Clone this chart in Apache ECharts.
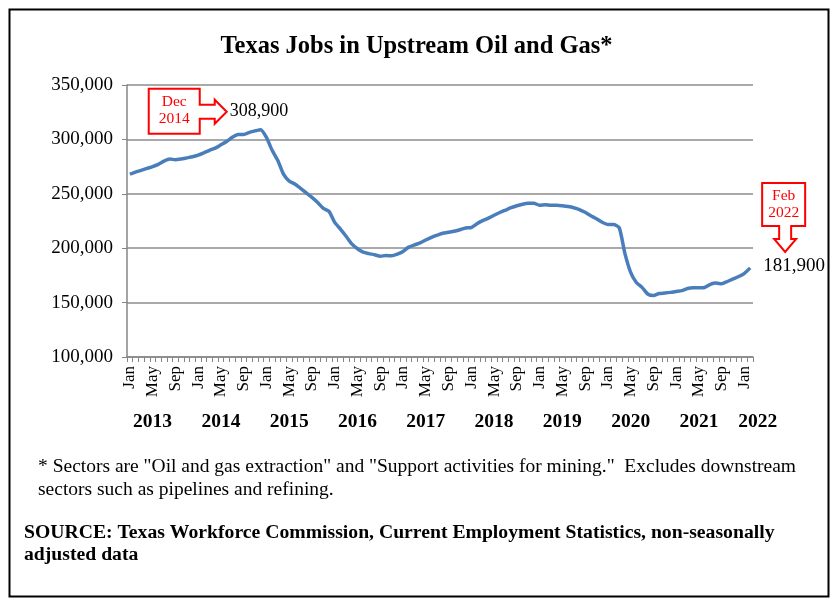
<!DOCTYPE html>
<html>
<head>
<meta charset="utf-8">
<script src="https://cdn.jsdelivr.net/npm/echarts@6/dist/echarts.min.js"></script>
<style>html,body{margin:0;padding:0;background:#fff}#c{width:833px;height:602px}</style>
</head>
<body>
<div id="c"></div>
<script>
const monthNames = ['Jan','Feb','Mar','Apr','May','Jun','Jul','Aug','Sep','Oct','Nov','Dec'];
const years = [2013,2014,2015,2016,2017,2018,2019,2020,2021,2022];
const jobs2013 = [268000,270000,271500,273300,275000,277000,280000,282000,281300,282000,283000,284000];
const jobs2014 = [285500,287600,290000,292000,295000,298000,302000,304600,304600,306400,307800,308900];
const jobs2015 = [301800,290000,280700,268000,261700,259000,255000,250800,246700,242000,236600,233800];
const jobs2016 = [223700,217600,211000,204000,199500,196300,195000,194000,192600,193300,193000,194500];
const jobs2017 = [197000,201000,203000,204800,207500,210000,212000,213800,214700,215600,217000,218600];
const jobs2018 = [219000,222500,225300,227600,230300,232800,235000,237200,239000,240400,241300,241300];
const jobs2019 = [239500,240000,239500,239500,239000,238300,237200,235500,233000,229900,227000,223800];
const jobs2020 = [221700,221700,218800,195000,177800,168500,164000,157900,156500,158300,158800,159400];
const jobs2021 = [160200,161000,163000,163600,163600,163900,166700,167900,167400,169400,171800,174000];
const jobs2022 = [176900,181900];
const yTicks = {min:100000, max:350000, step:50000};

const values = [].concat(jobs2013,jobs2014,jobs2015,jobs2016,jobs2017,jobs2018,jobs2019,jobs2020,jobs2021,jobs2022);
const categories = [];
years.forEach(y => monthNames.forEach(m => { if (categories.length < values.length) categories.push(m + ' ' + y); }));

const serif = 'Liberation Serif';
const fmt = v => v.toLocaleString('en-US');
const lastIdx = values.length - 1;
const chart = echarts.init(document.getElementById('c'));
const option = {
  animation: false,
  backgroundColor: '#fff',
  title: {
    text: 'Texas Jobs in Upstream Oil and Gas*',
    left: 'center', top: 29,
    textStyle: {fontFamily: serif, fontSize: 24.5, fontWeight: 'bold', color: '#000'}
  },
  grid: {left: 127, right: 80, top: 85, bottom: 245},
  xAxis: [{
    type: 'category', data: categories, boundaryGap: true,
    axisLine: {lineStyle: {color: '#868686', width: 1.5}},
    axisTick: {show: true, interval: 0, length: 5, alignWithLabel: false, lineStyle: {color: '#868686'}},
    axisLabel: {interval: 3, rotate: 90, margin: 9, formatter: v => v.split(' ')[0],
      fontFamily: serif, fontSize: 17, color: '#000'}
  }, {
    type: 'category', data: categories, position: 'bottom', offset: 51,
    axisLine: {show: false}, axisTick: {show: false},
    axisLabel: {interval: (i) => i % 12 === 4 || i === lastIdx, margin: 4,
      formatter: (v, i) => i === lastIdx ? '{s|' + v.split(' ')[1] + '}' : v.split(' ')[1],
      rich: {s: {padding: [0, 0, 0, 15], fontFamily: serif, fontSize: 19.5, fontWeight: 'bold', color: '#000'}},
      fontFamily: serif, fontSize: 19.5, fontWeight: 'bold', color: '#000'}
  }],
  yAxis: {
    type: 'value', min: yTicks.min, max: yTicks.max, interval: yTicks.step,
    axisLine: {show: true, lineStyle: {color: '#868686', width: 1.5}},
    axisTick: {show: true, length: 5, lineStyle: {color: '#868686'}},
    splitLine: {lineStyle: {color: '#8c8c8c', width: 1.5}},
    axisLabel: {formatter: fmt, margin: 14, fontFamily: serif, fontSize: 19, color: '#000'}
  },
  series: [{
    type: 'line', data: values, xAxisIndex: 0, showSymbol: false, smooth: 0.2,
    lineStyle: {color: '#4a7ebb', width: 3.5}, itemStyle: {color: '#4a7ebb'}
  }],
  graphic: [
    {type: 'rect', left: 7, top: 7, shape: {width: 819, height: 587},
      style: {fill: 'none', stroke: '#000', lineWidth: 2}},
    {type: 'text', left: 38, top: 457, style: {text: '* Sectors are "Oil and gas extraction" and "Support activities for mining."  Excludes downstream', font: '19.5px "Liberation Serif"', fill: '#000'}},
    {type: 'text', left: 38, top: 480, style: {text: 'sectors such as pipelines and refining.', font: '19.5px "Liberation Serif"', fill: '#000'}},
    {type: 'text', left: 24, top: 523, style: {text: 'SOURCE: Texas Workforce Commission, Current Employment Statistics, non-seasonally', font: 'bold 19.7px "Liberation Serif"', fill: '#000'}},
    {type: 'text', left: 24, top: 545, style: {text: 'adjusted data', font: 'bold 19.7px "Liberation Serif"', fill: '#000'}}
  ]
};
chart.setOption(option);

// callouts anchored on data points through the chart's own scales
const iPeak = categories.indexOf('Dec 2014');
const p1 = chart.convertToPixel({seriesIndex: 0}, [iPeak, values[iPeak]]);
const p2 = chart.convertToPixel({seriesIndex: 0}, [lastIdx, values[lastIdx]]);
const red = '#ff0000';
function rightCallout(p) {
  const x = p[0], y = p[1];
  const L = x - 112, R = x - 61, T = y - 41, B = y + 4, hx = x - 46, tip = x - 34, ty = y - 18;
  return [[L,T],[R,T],[R,ty-7],[hx,ty-7],[hx,ty-12],[tip,ty],[hx,ty+12],[hx,ty+7],[R,ty+7],[R,B],[L,B]];
}
function downCallout(p) {
  const x = p[0], y = p[1];
  const L = x + 12, R = x + 55, T = y - 85, B = y - 42, cx = x + 35, hy = y - 29, tip = y - 16;
  return [[L,T],[R,T],[R,B],[cx+6,B],[cx+6,hy],[cx+11,hy],[cx,tip],[cx-11,hy],[cx-6,hy],[cx-6,B],[L,B]];
}
chart.setOption({graphic: option.graphic.concat([
  {type: 'polygon', shape: {points: rightCallout(p1)}, style: {fill: '#fff', stroke: red, lineWidth: 2}, z: 100},
  {type: 'text', x: p1[0] - 86.5, y: p1[1] - 19, z: 101,
    style: {text: 'Dec\n2014', font: '15.5px "Liberation Serif"', fill: red, align: 'center', verticalAlign: 'middle', lineHeight: 17}},
  {type: 'text', x: p1[0] - 31, y: p1[1] - 18, z: 101,
    style: {text: fmt(values[iPeak]), font: '18px "Liberation Serif"', fill: '#000', verticalAlign: 'middle'}},
  {type: 'polygon', shape: {points: downCallout(p2)}, style: {fill: '#fff', stroke: red, lineWidth: 2}, z: 100},
  {type: 'text', x: p2[0] + 33.5, y: p2[1] - 63.5, z: 101,
    style: {text: 'Feb\n2022', font: '15.5px "Liberation Serif"', fill: red, align: 'center', verticalAlign: 'middle', lineHeight: 17}},
  {type: 'text', x: p2[0] + 13, y: p2[1] - 1.5, z: 101,
    style: {text: fmt(values[lastIdx]), font: '19px "Liberation Serif"', fill: '#000', verticalAlign: 'middle'}}
])});
</script>
</body>
</html>
